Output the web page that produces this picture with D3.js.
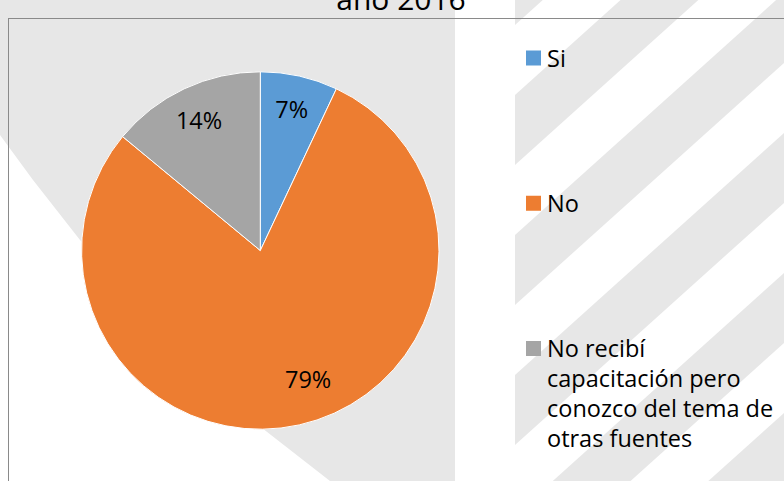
<!DOCTYPE html>
<html>
<head>
<meta charset="utf-8">
<script src="https://cdn.jsdelivr.net/npm/d3@7"></script>
<style>
  html, body { margin: 0; padding: 0; background: #ffffff; }
  svg { display: block; }
  text { font-family: "Open Sans", "Noto Sans", sans-serif; fill: #000; }
</style>
</head>
<body>
<svg id="chart" width="784" height="481"></svg>
<script>
// ---- data ----
const titleText = "año 2016";
const categories = ["Si", "No", "No recibí capacitación pero conozco del tema de otras fuentes"];
const values = [7, 79, 14];
const valueLabels = ["7%", "79%", "14%"];
const legendLines = [["Si"], ["No"], ["No recibí", "capacitación pero", "conozco del tema de", "otras fuentes"]];
const colors = ["#5B9BD5", "#ED7D31", "#A5A5A5"];

// ---- layout ----
const W = 784, H = 481;
const svg = d3.select("#chart");
const wmGray = "#e7e7e7";

// watermark-like background
const bg = svg.append("g");
const leftGray = [[0,0],[455,0],[455,481],[330,481],[262,428],[170,330],[80,240],[33,180],[0,135]];
bg.append("path").attr("d", d3.line().curve(d3.curveLinear)(leftGray)).attr("fill", wmGray);
bg.append("clipPath").attr("id", "rclip").append("rect").attr("x", 515).attr("y", 0).attr("width", W - 515).attr("height", H);
const stripes = bg.append("g").attr("clip-path", "url(#rclip)");
const slope = 0.9;
for (let k = -3; k <= 5; k++) {
  const a = 95 + 140 * k;
  const x0 = 515, x1 = W;
  const pts = [[x0, a], [x1, a - slope * (x1 - x0)], [x1, a + 70 - slope * (x1 - x0)], [x0, a + 70]];
  stripes.append("path").attr("d", d3.line()(pts) + "Z").attr("fill", wmGray);
}

// title (cut off at the top)
svg.append("text").attr("x", 401).attr("y", 10).attr("text-anchor", "middle")
  .style("font-size", "30px").text(titleText);

// chart border
svg.append("rect").attr("x", 8.5).attr("y", 18.5).attr("width", 900).attr("height", 600)
  .attr("fill", "none").attr("stroke", "#8a8a8a").attr("stroke-width", 1);

// pie
const cx = 260.3, cy = 250.5, r = 178.7;
const pie = d3.pie().sort(null).value(d => d)(values);
const arc = d3.arc().innerRadius(0).outerRadius(r);
const g = svg.append("g").attr("transform", `translate(${cx},${cy})`);
g.selectAll("path.slice").data(pie).join("path")
  .attr("class", "slice")
  .attr("d", arc)
  .attr("fill", (d, i) => colors[i])
  .attr("stroke", "#ffffff").attr("stroke-width", 1);

g.selectAll("text.lbl").data(pie).join("text")
  .attr("class", "lbl")
  .attr("text-anchor", "middle")
  .attr("dy", "0.35em")
  .style("font-size", "23.5px")
  .attr("transform", d => {
    const big = (d.endAngle - d.startAngle) > Math.PI;
    const f = big ? 0.473 : 0.5;
    const ratio = big ? 0.772 : 0.805;
    const a = d.startAngle + (d.endAngle - d.startAngle) * f;
    return `translate(${Math.sin(a) * r * ratio},${-Math.cos(a) * r * ratio})`;
  })
  .text((d, i) => valueLabels[i]);

// legend
const ly = d3.scaleLinear().domain([0, 2]).range([66.5, 357]);
const lineH = 30;
const leg = svg.append("g");
categories.forEach((c, i) => {
  const base = ly(i);
  leg.append("rect").attr("x", 526).attr("y", base - 16).attr("width", 15).attr("height", 15)
    .attr("fill", colors[i]);
  const t = leg.append("text").attr("x", 547).attr("y", base).style("font-size", "23.5px");
  legendLines[i].forEach((ln, j) => {
    t.append("tspan").attr("x", 547).attr("y", base + j * lineH).text(ln);
  });
});
</script>
</body>
</html>
